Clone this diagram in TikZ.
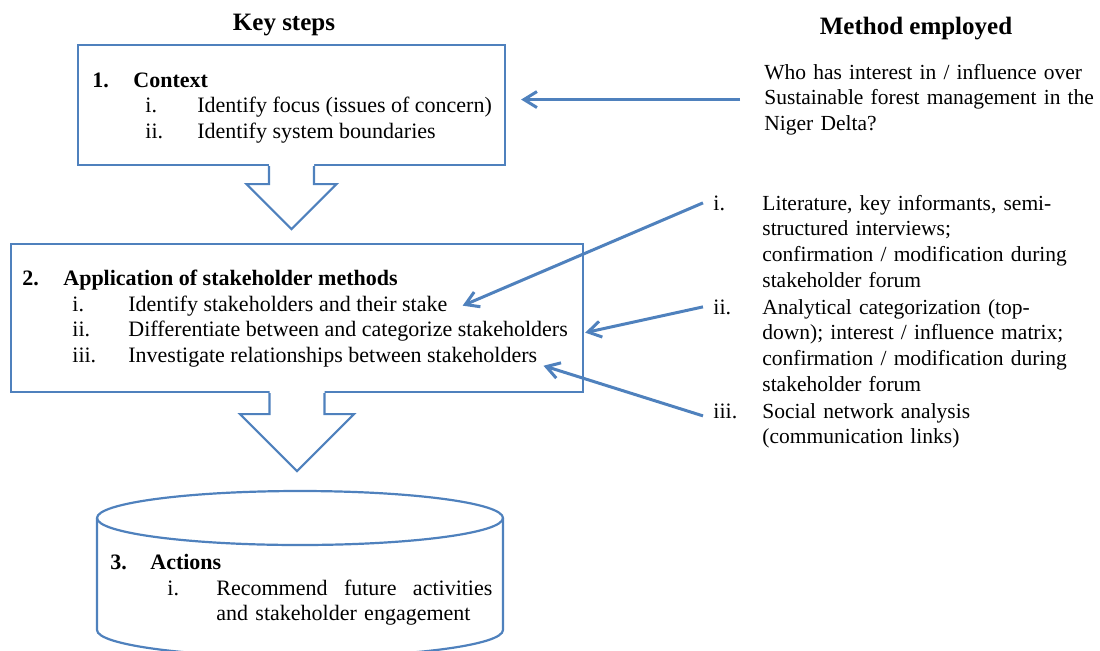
\documentclass[tikz,border=0pt]{standalone}
\usepackage{fontspec}
\setmainfont{Liberation Serif}
\usepackage{tikz}
\usetikzlibrary{arrows.meta,calc}
\definecolor{officeblue}{HTML}{4F81BD}

\begin{document}
\begin{tikzpicture}[
    x=0.5pt, y=-0.5pt,
    stepbox/.style={rectangle, draw=officeblue, line width=1.1pt, fill=white, inner sep=0pt},
    txt/.style={anchor=base west, inner sep=0pt, font=\fontsize{11}{12.9}\selectfont},
    para/.style={txt, text width=170pt, align=left, font=\fontsize{10.75}{12.9}\selectfont},
    num/.style={txt, inner xsep=5pt},
    head/.style={anchor=base, inner sep=0pt, font=\fontsize{12.5}{15}\selectfont\bfseries},
    blockarrow/.style={draw=officeblue, line width=1.1pt, line join=miter},
    link/.style={officeblue, line width=1.5pt, -{Straight Barb[length=6.5pt, width=8pt]}}
]
\useasboundingbox (0,0) rectangle (1100,650);

% Headings
\node[head] (hkey)  at (284,30) {Key steps};
\node[head] (hmeth) at (916,34) {Method employed};

% Step boxes
\node[stepbox, minimum width=213.5pt, minimum height=60pt] (ctx) at (291.5,105) {};
\node[stepbox, minimum width=286pt, minimum height=74pt] (app) at (297,318) {};

% Block arrows below the boxes
\begin{scope}[shift={(ctx.south)}]
  \fill[white] (-22.5,-2) -- (-22.5,18) -- (-45,18) -- (0,63) -- (45,18) -- (22.5,18) -- (22.5,-2) -- cycle;
  \draw[blockarrow] (-22.5,0) -- (-22.5,18) -- (-45,18) -- (0,63) -- (45,18) -- (22.5,18) -- (22.5,0);
\end{scope}
\begin{scope}[shift={(app.south)}]
  \fill[white] (-27.5,-2) -- (-27.5,21) -- (-57,21) -- (0,78) -- (57,21) -- (27.5,21) -- (27.5,-2) -- cycle;
  \draw[blockarrow] (-27.5,0) -- (-27.5,21) -- (-57,21) -- (0,78) -- (57,21) -- (27.5,21) -- (27.5,0);
\end{scope}

% Actions cylinder
\coordinate (cyltop) at (300,518);
\draw[blockarrow, fill=white] (97,518) -- (97,630) arc[start angle=180, end angle=0, x radius=203, y radius=27] -- (503,518);
\draw[blockarrow] (cyltop) ellipse[x radius=203, y radius=27];

% Step 1
\node[txt] (n1)  at (92,87)   {\textbf{1.}};
\node[txt] (h1)  at (133,87)  {\textbf{Context}};
\node[txt] (n1a) at (145,112) {i.};
\node[txt] (t1a) at (197,112) {Identify focus (issues of concern)};
\node[txt] (n1b) at (145,138) {ii.};
\node[txt] (t1b) at (197,138) {Identify system boundaries};

% Step 2
\node[txt] (n2)  at (22,285)  {\textbf{2.}};
\node[txt] (h2)  at (63,285)  {\textbf{Application of stakeholder methods}};
\node[txt] (n2a) at (72,311)  {i.};
\node[txt] (t2a) at (128,311) {Identify stakeholders and their stake};
\node[txt] (n2b) at (72,336)  {ii.};
\node[txt] (t2b) at (128,336) {Differentiate between and categorize stakeholders};
\node[txt] (n2c) at (72,362)  {iii.};
\node[txt] (t2c) at (128,362) {Investigate relationships between stakeholders};

% Step 3
\node[txt] (n3)  at (110,569) {\textbf{3.}};
\node[txt] (h3)  at (150,569) {\textbf{Actions}};
\node[txt] (n3a) at (167,595) {i.};
\node[txt, text width=138pt] (t3a) at (216,595) {Recommend\hfill future\hfill activities\\and stakeholder engagement};

% Methods
\node[para] (q)  at (764,79)  {Who has interest in / influence over\\Sustainable forest management in the\\Niger Delta?};
\node[num]  (m1) at (703,210) {i.};
\node[para] (r1) at (762,210) {Literature, key informants, semi-\\structured interviews;\\confirmation / modification during\\stakeholder forum};
\node[num]  (m2) at (703,314) {ii.};
\node[para] (r2) at (762,314) {Analytical categorization (top-\\down); interest / influence matrix;\\confirmation / modification during\\stakeholder forum};
\node[num]  (m3) at (703,418) {iii.};
\node[para] (r3) at (762,418) {Social network analysis\\(communication links)};

% Links
\draw[link] ($(q.west)+(-24,0)$) -- ($(ctx.east |- q.west)+(15,0)$);
\draw[link] (m1.west) -- ($(t2a.east)+(15,0)$);
\draw[link] (m2.west) -- ($(t2b.east)+(17,2)$);
\draw[link] ($(m3.west)+(0,5)$) -- ($(t2c.east)+(6,9)$);

\end{tikzpicture}
\end{document}
